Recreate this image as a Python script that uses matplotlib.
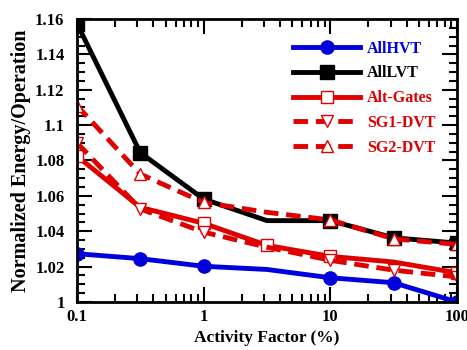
import matplotlib
matplotlib.use("Agg")
import matplotlib.pyplot as plt
from matplotlib.ticker import LogLocator, MultipleLocator, FixedLocator, FixedFormatter, NullFormatter

# activity factor (%), half-decade steps
activity = [0.1, 0.316, 1, 3.16, 10, 31.6, 100]

all_hvt = [1.0273, 1.0245, 1.0202, 1.0184, 1.0137, 1.0109, 1.0000]
all_lvt = [1.1574, 1.0844, 1.0582, 1.0460, 1.0460, 1.0363, 1.0333]
alt_gates = [1.0825, 1.0535, 1.0445, 1.0320, 1.0258, 1.0226, 1.0165]
sg1_dvt = [1.0900, 1.0526, 1.0395, 1.0310, 1.0236, 1.0180, 1.0142]
sg2_dvt = [1.1110, 1.0723, 1.0563, 1.0507, 1.0464, 1.0357, 1.0326]

# which points carry a marker in the original figure
marks_default = [0, 1, 2, 4, 5, 6]
marks_alt = [0, 2, 3, 4, 6]

plt.rcParams["font.family"] = ["Liberation Serif", "DejaVu Serif"]
plt.rcParams["font.weight"] = "bold"

RED = "#e00000"
BLUE = "#0000dd"

fig = plt.figure(figsize=(4.67, 3.5), dpi=100)
ax = fig.add_axes([77 / 467, 48 / 350, 380 / 467, 283 / 350])

ax.plot(activity, all_hvt, color=BLUE, lw=3.5, marker="o", ms=9.5,
        markevery=marks_default, label="AllHVT")
ax.plot(activity, all_lvt, color="black", lw=3.5, marker="s", ms=9.5,
        markevery=marks_default, label="AllLVT")
ax.plot(activity, alt_gates, color=RED, lw=3.5, marker="s", ms=9, mfc="white",
        mec=RED, mew=1.0, markevery=marks_alt, label="Alt-Gates")
ax.plot(activity, sg1_dvt, color=RED, lw=3.5, ls=(0, (3, 1.6)), marker="v", ms=9,
        mfc="white", mec=RED, mew=1.0, markevery=marks_default, label="SG1-DVT")
ax.plot(activity, sg2_dvt, color=RED, lw=3.5, ls=(0, (3, 1.6)), marker="^", ms=9,
        mfc="white", mec=RED, mew=1.0, markevery=marks_default, label="SG2-DVT")

ax.set_xscale("log")
ax.set_xlim(0.1, 100)
ax.set_ylim(1.0, 1.16)

ax.xaxis.set_major_locator(FixedLocator([0.1, 1, 10, 100]))
ax.xaxis.set_major_formatter(FixedFormatter(["0.1", "1", "10", "100"]))
ax.xaxis.set_minor_locator(LogLocator(base=10, subs=range(2, 10)))
ax.xaxis.set_minor_formatter(NullFormatter())
ax.yaxis.set_minor_locator(MultipleLocator(0.005))
ax.set_yticks([1.0, 1.02, 1.04, 1.06, 1.08, 1.1, 1.12, 1.14, 1.16])
ax.set_yticklabels(["1", "1.02", "1.04", "1.06", "1.08", "1.1", "1.12", "1.14", "1.16"])

ax.tick_params(which="both", direction="in", top=True, right=True, labelsize=12, width=1.5)
ax.tick_params(which="major", length=11)
ax.tick_params(which="minor", length=6)
ax.tick_params(axis="y", pad=9)
ax.tick_params(axis="x", pad=5)
for s in ax.spines.values():
    s.set_linewidth(2)

ax.set_xlabel("Activity Factor (%)", fontsize=12.5, fontweight="bold", labelpad=4)
ax.set_ylabel("Normalized Energy/Operation", fontsize=14.5, fontweight="bold", labelpad=3)

leg = ax.legend(loc="upper right", frameon=False, fontsize=11.5, handlelength=4.2,
                handletextpad=0.4, labelspacing=0.55, borderaxespad=0.6,
                bbox_to_anchor=(0.985, 0.98))
for txt, line in zip(leg.get_texts(), leg.get_lines()):
    txt.set_color(line.get_color())

fig.savefig("out.png", dpi=100)
